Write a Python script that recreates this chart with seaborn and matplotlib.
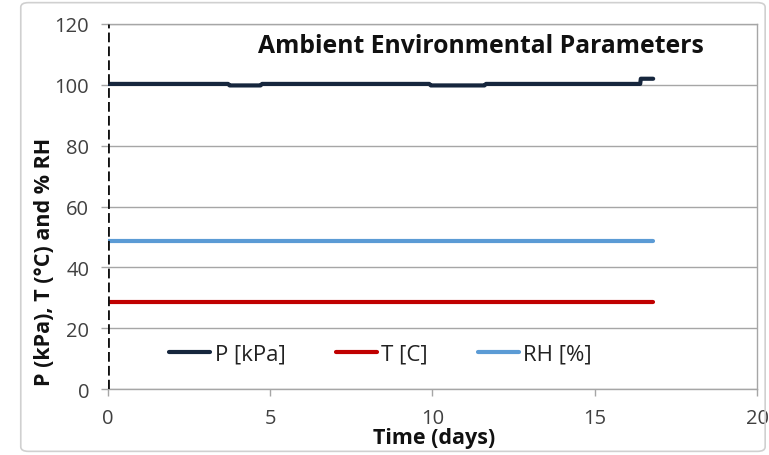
import matplotlib
matplotlib.use("Agg")
import matplotlib.pyplot as plt
from matplotlib.patches import FancyBboxPatch
import seaborn as sns
import pandas as pd

# Ambient readings over the test period
p_days = [0, 3.7, 3.75, 4.7, 4.75, 9.9, 9.95, 11.6, 11.65, 16.4, 16.42, 16.8]
p_kpa = [100.3, 100.3, 99.8, 99.8, 100.3, 100.3, 99.8, 99.8, 100.3, 100.3, 102.0, 102.0]
t_days = [0, 16.8]
t_c = [28.7, 28.7]
rh_days = [0, 16.8]
rh_pct = [48.7, 48.7]

series_names = ["P [kPa]", "T [C]", "RH [%]"]
series_colors = ["#16263d", "#c00000", "#5b9bd5"]

frames = [
    pd.DataFrame({"Time": p_days, "Value": p_kpa, "Series": series_names[0]}),
    pd.DataFrame({"Time": t_days, "Value": t_c, "Series": series_names[1]}),
    pd.DataFrame({"Time": rh_days, "Value": rh_pct, "Series": series_names[2]}),
]
data = pd.concat(frames, ignore_index=True)

sns.set_theme(style="white")
plt.rcParams["font.family"] = ["Open Sans", "DejaVu Sans"]

fig = plt.figure(figsize=(7.69, 4.56), dpi=100)
ax = fig.add_axes([0.1404, 0.1447, 0.844, 0.8005])

# rounded frame around the whole chart
fig.patches.append(FancyBboxPatch((0.027, 0.008), 0.968, 0.984,
                                  boxstyle="round,pad=0,rounding_size=0.01",
                                  transform=fig.transFigure, fill=False,
                                  edgecolor="#d0d0d0", linewidth=1.2))

ax.set_xlim(0, 20)
ax.set_ylim(0, 120)
ax.set_xticks([0, 5, 10, 15, 20])
ax.set_yticks(range(0, 121, 20))
ax.yaxis.grid(True, color="#a6a6a6", linewidth=1)
ax.set_axisbelow(True)

sns.lineplot(data=data, x="Time", y="Value", hue="Series",
             hue_order=series_names, palette=series_colors,
             linewidth=3, estimator=None, sort=False, ax=ax)

# dashed marker at the start of the test
ax.axvline(0, color="#111111", linestyle=(0, (3.5, 1.5)), linewidth=2, zorder=5)

for side in ["top", "right", "bottom"]:
    ax.spines[side].set_color("#a6a6a6")
    ax.spines[side].set_linewidth(1)
ax.spines["left"].set_visible(False)

ax.tick_params(axis="both", which="major", direction="out", length=5,
               color="#a6a6a6", labelsize=14.5, labelcolor="#404040", width=1)
ax.tick_params(axis="y", left=True, pad=8.5)
ax.tick_params(axis="x", bottom=True, pad=9)

ax.set_xlabel("Time (days)", fontsize=15.5, fontweight="bold", color="#111111")
ax.xaxis.set_label_coords(0.503, -0.104)
ax.set_ylabel("P (kPa), T (°C) and % RH", fontsize=15.5, fontweight="bold",
              color="#111111")
ax.yaxis.set_label_coords(-0.081, 0.351)

ax.text(11.5, 113, "Ambient Environmental Parameters", ha="center", va="center",
        fontsize=17.8, fontweight="bold", color="#111111")

leg = ax.legend(loc="center", bbox_to_anchor=(0.42, 0.096), ncol=3, frameon=False,
                fontsize=16, handlelength=1.85, handletextpad=0.2, columnspacing=2.25)
for txt in leg.get_texts():
    txt.set_color("#222222")

fig.savefig("out.png", dpi=100)
